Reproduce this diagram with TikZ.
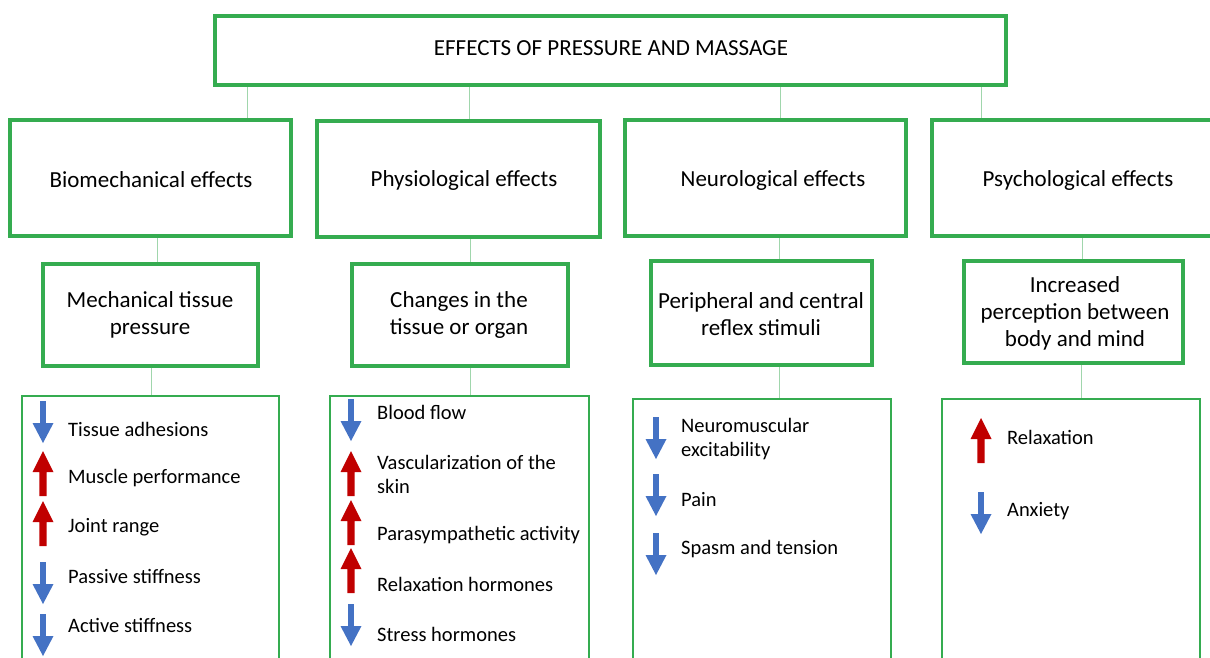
\documentclass[tikz,border=0pt]{standalone}
\usepackage{fontspec}
\setmainfont{Carlito}
\definecolor{boxgreen}{RGB}{53,172,80}
\definecolor{conngreen}{RGB}{160,214,172}
\definecolor{arrblue}{RGB}{68,114,196}
\definecolor{arrred}{RGB}{192,0,0}
\begin{document}
\begin{tikzpicture}[x=1pt,y=-1pt,
  box/.style={draw=boxgreen, line width=4pt, rectangle, inner sep=0pt},
  listbox/.style={draw=boxgreen, line width=2.5pt, rectangle, inner sep=0pt},
  conn/.style={draw=conngreen, line width=1pt},
  lbl/.style={font=\fontsize{23}{27}\selectfont, align=center, inner sep=0pt, text=black},
  itemtxt/.style={font=\fontsize{20.5}{24}\selectfont, align=left, anchor=west, inner sep=0pt, text=black},
  pics/dnarr/.style={code={\fill[arrblue] (-2.8,0) -- (2.8,0) -- (2.8,22) -- (10.5,22) -- (0,42) -- (-10.5,22) -- (-2.8,22) -- cycle;}},
  pics/uparr/.style={code={\fill[arrred] (-3.6,45) -- (3.6,45) -- (3.6,21) -- (10.5,21) -- (0,0) -- (-10.5,21) -- (-3.6,21) -- cycle;}}
]
\useasboundingbox (0,0) rectangle (1210,657);

% top
\node[box, minimum width=791pt, minimum height=69pt] (top) at (610.5,50.5) {};
\node[lbl] (topt) at (611,48) {EFFECTS OF PRESSURE AND MASSAGE};

% row 2
\node[box, minimum width=281pt, minimum height=116pt] (bio) at (150.5,178) {};
\node[box, minimum width=283pt, minimum height=116pt] (phy) at (458.5,179) {};
\node[box, minimum width=281pt, minimum height=116pt] (neu) at (765.5,178) {};
\node[box, minimum width=282pt, minimum height=116pt] (psy) at (1073,178) {};
\node[lbl] (biot) at (151,180) {Biomechanical effects};
\node[lbl] (phyt) at (464,180) {Physiological effects};
\node[lbl] (neut) at (773,180) {Neurological effects};
\node[lbl] (psyt) at (1078,180) {Psychological effects};

% row 3
\node[box, minimum width=215pt, minimum height=102pt] (mech) at (150.5,315) {};
\node[box, minimum width=216pt, minimum height=102pt] (chg) at (460,315) {};
\node[box, minimum width=221pt, minimum height=104pt] (per) at (761.5,313) {};
\node[box, minimum width=219pt, minimum height=102pt] (inc) at (1073.5,312) {};
\node[lbl] (mecht) at (150,315) {Mechanical tissue\\pressure};
\node[lbl] (chgt) at (459,315) {Changes in the\\tissue or organ};
\node[lbl] (pert) at (761,314) {Peripheral and central\\reflex stimuli};
\node[lbl] (inct) at (1075,313) {Increased\\perception between\\body and mind};

% row 4
\node[listbox, minimum width=257pt, minimum height=304pt] (l1) at (150.5,548) {};
\node[listbox, minimum width=259pt, minimum height=304pt] (l2) at (459.5,548) {};
\node[listbox, minimum width=258pt, minimum height=302pt] (l3) at (762,550) {};
\node[listbox, minimum width=258pt, minimum height=302pt] (l4) at (1071,550) {};

% connectors
\coordinate (k1) at (247,0);
\coordinate (k2) at (469.5,0);
\coordinate (k3) at (780,0);
\coordinate (k4) at (981,0);
\draw[conn] (top.south -| k1) -- (bio.north -| k1);
\draw[conn] (top.south -| k2) -- (phy.north -| k2);
\draw[conn] (top.south -| k3) -- (neu.north -| k3);
\draw[conn] (top.south -| k4) -- (psy.north -| k4);
\coordinate (m1) at (157,0);
\coordinate (m2) at (470,0);
\coordinate (m3) at (779,0);
\coordinate (m4) at (1082,0);
\draw[conn] (bio.south -| m1) -- (mech.north -| m1);
\draw[conn] (phy.south -| m2) -- (chg.north -| m2);
\draw[conn] (neu.south -| m3) -- (per.north -| m3);
\draw[conn] (psy.south -| m4) -- (inc.north -| m4);
\coordinate (n1) at (151.5,0);
\coordinate (n2) at (470,0);
\coordinate (n3) at (779,0);
\coordinate (n4) at (1081,0);
\draw[conn] (mech.south -| n1) -- (l1.north -| n1);
\draw[conn] (chg.south -| n2) -- (l2.north -| n2);
\draw[conn] (per.south -| n3) -- (l3.north -| n3);
\draw[conn] (inc.south -| n4) -- (l4.north -| n4);

% list 1
\pic at (43,401) {dnarr};
\pic at (43,451) {uparr};
\pic at (43,501) {uparr};
\pic at (43,562) {dnarr};
\pic at (43,614) {dnarr};
\node[itemtxt] (a1) at (68,429) {Tissue adhesions};
\node[itemtxt] (a2) at (68,478) {Muscle performance};
\node[itemtxt] (a3) at (68,527) {Joint range};
\node[itemtxt] (a4) at (68,576) {Passive stiffness};
\node[itemtxt] (a5) at (68,625) {Active stiffness};

% list 2
\pic at (351,399) {dnarr};
\pic at (351,451) {uparr};
\pic at (351,500) {uparr};
\pic at (351,548) {uparr};
\pic at (351,604) {dnarr};
\node[itemtxt] (b1) at (377,412) {Blood flow};
\node[itemtxt] (b2) at (377,474) {Vascularization of the\\skin};
\node[itemtxt] (b3) at (377,535) {Parasympathetic activity};
\node[itemtxt] (b4) at (377,584) {Relaxation hormones};
\node[itemtxt] (b5) at (377,634) {Stress hormones};

% list 3
\pic at (656,417) {dnarr};
\pic at (656,474) {dnarr};
\pic at (656,533) {dnarr};
\node[itemtxt] (c1) at (681,439) {Neuromuscular\\excitability};
\node[itemtxt] (c2) at (681,500) {Pain};
\node[itemtxt] (c3) at (681,549) {Spasm and tension};

% list 4
\pic at (981,418) {uparr};
\pic at (981,492) {dnarr};
\node[itemtxt] (d1) at (1007,437) {Relaxation};
\node[itemtxt] (d2) at (1007,511) {Anxiety};
\end{tikzpicture}
\end{document}
